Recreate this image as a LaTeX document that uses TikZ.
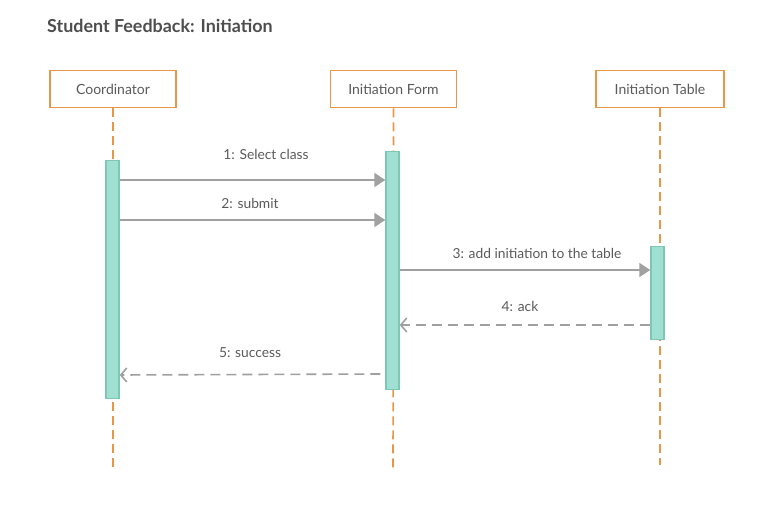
\documentclass[tikz,border=0pt]{standalone}
\usepackage{fontspec}
\setmainfont{Lato}
\usetikzlibrary{arrows.meta}
\definecolor{orng}{HTML}{E8964A}
\definecolor{actfill}{HTML}{A0E0D2}
\definecolor{actdraw}{HTML}{7CC8B5}
\definecolor{arrgray}{HTML}{A0A0A0}
\definecolor{txtgray}{HTML}{5A5A5A}
\definecolor{titlegray}{HTML}{4D4D4D}
\begin{document}
\begin{tikzpicture}[x=1pt,y=-1pt,
  actor/.style={draw=orng,line width=1.9pt,fill=white,minimum width=126pt,minimum height=37pt,inner sep=0pt,font=\fontsize{14}{16}\selectfont,text=txtgray},
  lifeline/.style={draw=orng,line width=1.6pt,dash pattern=on 9pt off 5pt},
  act/.style={draw=actdraw,fill=actfill,line width=1.4pt},
  msg/.style={draw=arrgray,line width=1.6pt,-{Triangle[length=11pt,width=14pt]}},
  ret/.style={draw=arrgray,line width=1.6pt,dash pattern=on 10pt off 6pt,-{Straight Barb[length=6pt,width=14pt,line width=1.6pt]}},
  lbl/.style={font=\fontsize{13.8}{16}\selectfont,text=txtgray,inner sep=0pt}]
\useasboundingbox (0,0) rectangle (780,518);
\node[anchor=west,font=\bfseries\fontsize{17.9}{21}\selectfont,text=titlegray,inner sep=0pt] (title) at (47,26) {Student Feedback: Initiation};
% lifelines
\coordinate (c1) at (113,470);
\coordinate (c2) at (393,470);
\coordinate (c3) at (660,465);
\node[actor] (coord) at (113,89) {Coordinator};
\node[actor] (form) at (393.5,89) {Initiation Form};
\node[actor,minimum width=128pt] (table) at (660,89) {Initiation Table};
\draw[lifeline] (coord.south) -- (c1);
\draw[lifeline] (form.south) -- (c2);
\draw[lifeline] (table.south) -- (c3);
% activations
\node[act,minimum width=13pt,minimum height=238pt,inner sep=0pt,anchor=north] (ac) at (112.5,160) {};
\node[act,minimum width=13pt,minimum height=238pt,inner sep=0pt,anchor=north] (af) at (392.5,151) {};
\node[act,minimum width=13pt,minimum height=93pt,inner sep=0pt,anchor=north] (at) at (657.5,246) {};
% messages
\coordinate (m1s) at (ac.east |- 0,180);
\coordinate (m1e) at (af.west |- 0,180);
\draw[msg] (m1s) -- (m1e);
\node[lbl] (l1) at (266,154) {1: Select class};
\coordinate (m2s) at (ac.east |- 0,220);
\coordinate (m2e) at (af.west |- 0,220);
\draw[msg] (m2s) -- (m2e);
\node[lbl] (l2) at (250,203) {2: submit};
\coordinate (m3s) at (af.east |- 0,270);
\coordinate (m3e) at (at.west |- 0,270);
\draw[msg] (m3s) -- (m3e);
\node[lbl] (l3) at (537,253) {3: add initiation to the table};
\coordinate (m4s) at (at.west |- 0,325);
\coordinate (m4e) at (af.east |- 0,325);
\draw[ret] (m4s) -- (m4e);
\node[lbl] (l4) at (520,306) {4: ack};
\coordinate (m5s) at ([xshift=-5pt]af.west |- 0,374);
\coordinate (m5e) at (ac.east |- 0,375);
\draw[ret] (m5s) -- (m5e);
\node[lbl] (l5) at (250,353) {5: success};
\end{tikzpicture}
\end{document}
